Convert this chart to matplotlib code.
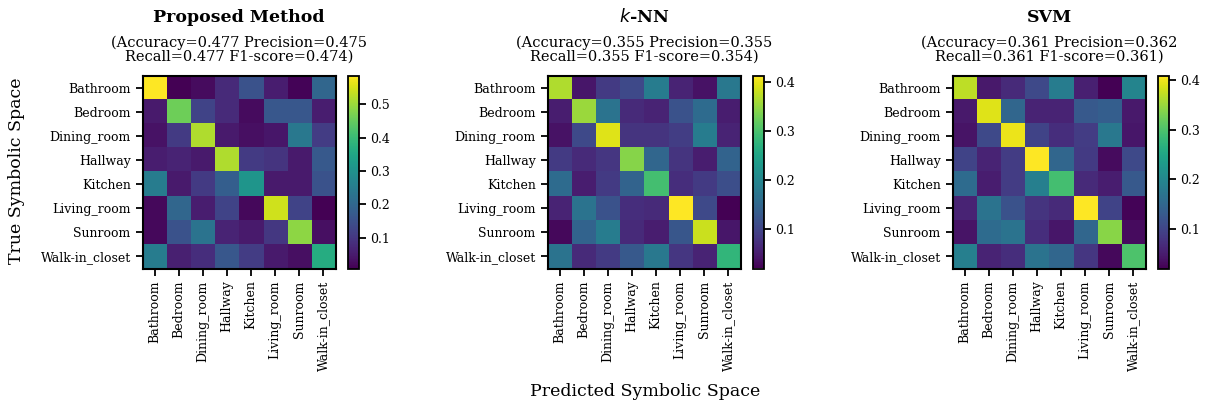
import matplotlib
matplotlib.use("Agg")
import matplotlib.pyplot as plt
import numpy as np

plt.rcParams["font.family"] = "DejaVu Serif"

classes = ["Bathroom", "Bedroom", "Dining_room", "Hallway", "Kitchen",
           "Living_room", "Sunroom", "Walk-in_closet"]

# row-normalised confusion matrices
cm_proposed = [
    [0.587, 0.007, 0.024, 0.077, 0.152, 0.053, 0.013, 0.198],
    [0.048, 0.459, 0.123, 0.077, 0.024, 0.164, 0.164, 0.053],
    [0.036, 0.106, 0.517, 0.048, 0.030, 0.042, 0.239, 0.111],
    [0.053, 0.065, 0.048, 0.517, 0.106, 0.094, 0.048, 0.169],
    [0.251, 0.048, 0.106, 0.181, 0.309, 0.048, 0.048, 0.152],
    [0.019, 0.198, 0.053, 0.123, 0.019, 0.546, 0.123, 0.007],
    [0.019, 0.152, 0.227, 0.065, 0.048, 0.100, 0.488, 0.030],
    [0.251, 0.059, 0.082, 0.164, 0.111, 0.048, 0.030, 0.367],
]
cm_knn = [
    [0.367, 0.044, 0.087, 0.107, 0.185, 0.059, 0.040, 0.178],
    [0.052, 0.355, 0.170, 0.067, 0.059, 0.119, 0.158, 0.052],
    [0.040, 0.107, 0.394, 0.079, 0.079, 0.091, 0.185, 0.059],
    [0.087, 0.067, 0.083, 0.343, 0.150, 0.079, 0.052, 0.146],
    [0.158, 0.052, 0.087, 0.146, 0.296, 0.071, 0.087, 0.115],
    [0.059, 0.170, 0.119, 0.071, 0.067, 0.414, 0.107, 0.020],
    [0.028, 0.146, 0.185, 0.067, 0.052, 0.126, 0.382, 0.044],
    [0.170, 0.067, 0.087, 0.130, 0.178, 0.083, 0.059, 0.280],
]
cm_svm = [
    [0.371, 0.047, 0.067, 0.106, 0.184, 0.055, 0.020, 0.196],
    [0.047, 0.391, 0.149, 0.059, 0.059, 0.129, 0.137, 0.047],
    [0.040, 0.106, 0.398, 0.098, 0.071, 0.090, 0.176, 0.043],
    [0.098, 0.059, 0.090, 0.410, 0.149, 0.086, 0.032, 0.106],
    [0.157, 0.051, 0.090, 0.188, 0.293, 0.067, 0.051, 0.129],
    [0.059, 0.168, 0.118, 0.079, 0.067, 0.410, 0.098, 0.024],
    [0.040, 0.157, 0.168, 0.071, 0.043, 0.149, 0.340, 0.032],
    [0.188, 0.059, 0.071, 0.168, 0.149, 0.082, 0.028, 0.301],
]

titles = ["Proposed Method", r"$k$-NN", "SVM"]
subtitles = [
    "(Accuracy=0.477 Precision=0.475\nRecall=0.477 F1-score=0.474)",
    "(Accuracy=0.355 Precision=0.355\nRecall=0.355 F1-score=0.354)",
    "(Accuracy=0.361 Precision=0.362\nRecall=0.361 F1-score=0.361)",
]
cbar_ticks = [[0.1, 0.2, 0.3, 0.4, 0.5], [0.1, 0.2, 0.3, 0.4], [0.1, 0.2, 0.3, 0.4]]

W, H = 1207, 405
fig = plt.figure(figsize=(W / 100, H / 100), dpi=100)


def px_axes(x0, y0, x1, y1):
    return fig.add_axes([x0 / W, 1 - y1 / H, (x1 - x0) / W, (y1 - y0) / H])


heat_x = [142.5, 547.5, 952.5]
cbar_x = [347.5, 752.5, 1157.5]
top, bot = 75.5, 268.5
side = bot - top

for k, cm in enumerate([cm_proposed, cm_knn, cm_svm]):
    ax = px_axes(heat_x[k], top, heat_x[k] + side, bot)
    im = ax.imshow(np.array(cm), cmap="viridis", aspect="auto", interpolation="nearest")
    ax.set_xticks(range(len(classes)))
    ax.set_yticks(range(len(classes)))
    ax.set_xticklabels(classes, rotation=90, fontsize=9)
    ax.set_yticklabels(classes, fontsize=9)
    ax.tick_params(length=5, width=1.3)
    for s in ax.spines.values():
        s.set_linewidth(1.5)

    cax = px_axes(cbar_x[k], top, cbar_x[k] + 11, bot)
    cb = fig.colorbar(im, cax=cax, ticks=cbar_ticks[k])
    cb.ax.tick_params(labelsize=9, length=5, width=1.3)
    cb.outline.set_linewidth(1.3)

    cx = (heat_x[k] + side / 2) / W
    fig.text(cx, 1 - 17 / H, titles[k], ha="center", va="center",
             fontsize=12.5, fontweight="bold")
    fig.text(cx, 1 - 49.5 / H, subtitles[k], ha="center", va="center",
             fontsize=10.5, linespacing=1.0)

fig.text(17 / W, 1 - 171 / H, "True Symbolic Space", rotation=90,
         ha="center", va="center", fontsize=12.5)
fig.text(645 / W, 1 - 392 / H, "Predicted Symbolic Space",
         ha="center", va="center", fontsize=12.5)

fig.savefig("out.png", dpi=100)
